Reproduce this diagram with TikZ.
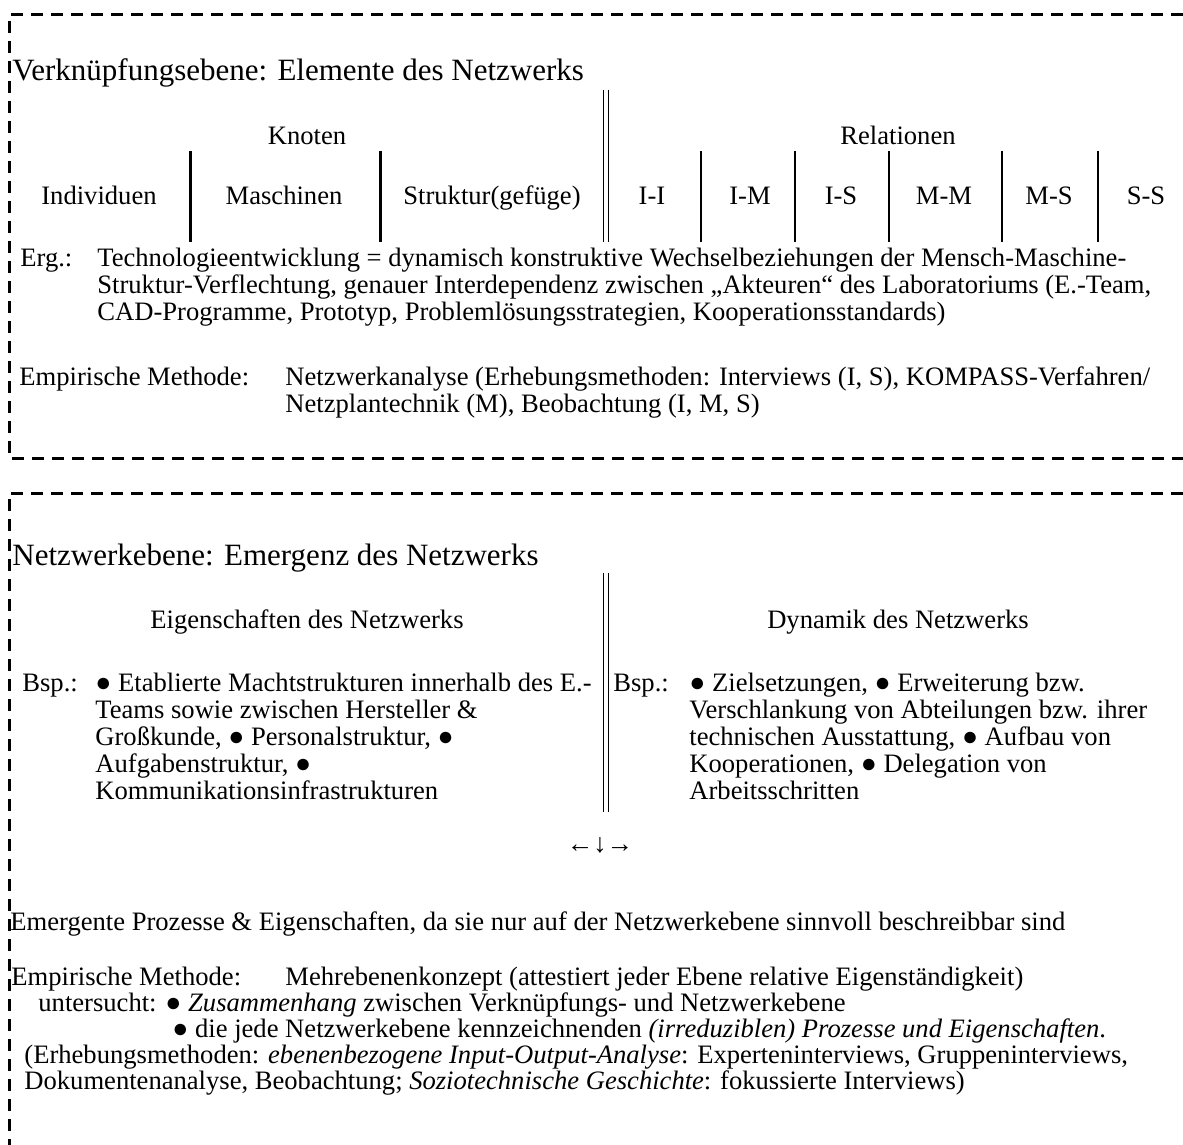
\documentclass[tikz,border=0pt]{standalone}
\usepackage{fontspec}
\setmainfont{Liberation Serif}
\usetikzlibrary{positioning}

\begin{document}
\begin{tikzpicture}[x=0.5pt,y=-0.5pt,every node/.style={inner sep=0pt,anchor=base west,font=\fontsize{13.3}{13.5}\selectfont}]
 \tikzstyle{rahmen}=[line width=1.5pt,dash pattern=on 6pt off 4pt]
 \tikzstyle{trenn}=[line width=1.5pt]
 \tikzstyle{duenn}=[line width=1pt]
 \tikzstyle{doppel}=[double,double distance=1.6pt,line width=0.6pt]
 \tikzstyle{mitte}=[anchor=base]
 \tikzstyle{gross}=[font=\fontsize{15.5}{16}\selectfont]
 \useasboundingbox (0,0) rectangle (1183,1145);

 % oberer Rahmen
 \draw[rahmen] (1183,15) -- (9,15) -- (9,458) -- (1183,458);
 \node[gross] (titel1) at (12,81) {Verknüpfungsebene: Elemente des Netzwerks};
 \node[mitte] (knoten) at (307,144) {Knoten};
 \node[mitte] (relationen) at (898,144) {Relationen};
 \node[mitte] (ind) at (99,205) {Individuen};
 \node[mitte] (masch) at (284,205) {Maschinen};
 \node[mitte] (strukt) at (492,205) {Struktur(gefüge)};
 \node[mitte] (ii) at (652,205) {I-I};
 \node[mitte] (im) at (750,205) {I-M};
 \node[mitte] (is) at (841,205) {I-S};
 \node[mitte] (mm) at (944,205) {M-M};
 \node[mitte] (ms) at (1049,205) {M-S};
 \node[mitte] (ss) at (1146,205) {S-S};
 \draw[doppel] (606,90) -- (606,242);
 \foreach \x in {190,380} \draw[trenn] (\x,151) -- (\x,242);
 \foreach \x in {701,795,889,1002,1098} \draw[duenn] (\x,151) -- (\x,242);

 \node (erg) at (20,266) {Erg.:};
 \node (erg1) at (97,266) {Technologieentwicklung = dynamisch konstruktive Wechselbeziehungen der Mensch-Maschine-};
 \node (erg2) at (97,293) {Struktur-Verflechtung, genauer Interdependenz zwischen „Akteuren“ des Laboratoriums (E.-Team,};
 \node (erg3) at (97,320) {CAD-Programme, Prototyp, Problemlösungsstrategien, Kooperationsstandards)};
 \node (emp1) at (19,385) {Empirische Methode:};
 \node (emp1a) at (285,385) {Netzwerkanalyse (Erhebungsmethoden: Interviews (I, S), KOMPASS-Verfahren/};
 \node (emp1b) at (285,412) {Netzplantechnik (M), Beobachtung (I, M, S)};

 % unterer Rahmen
 \draw[rahmen] (1183,493) -- (9,493) -- (9,1145);
 \node[gross] (titel2) at (12,565) {Netzwerkebene: Emergenz des Netzwerks};
 \node[mitte] (eig) at (307,628) {Eigenschaften des Netzwerks};
 \node[mitte] (dyn) at (898,628) {Dynamik des Netzwerks};
 \draw[doppel] (606,573) -- (606,812);
 \node (bsp1) at (22,691) {Bsp.:};
 \node (eig1) at (95,691) {● Etablierte Machtstrukturen innerhalb des E.-};
 \node (eig2) at (95,718) {Teams sowie zwischen Hersteller \&};
 \node (eig3) at (95,745) {Großkunde, ● Personalstruktur, ●};
 \node (eig4) at (95,772) {Aufgabenstruktur, ●};
 \node (eig5) at (95,799) {Kommunikationsinfrastrukturen};
 \node (bsp2) at (613,691) {Bsp.:};
 \node (dyn1) at (689,691) {● Zielsetzungen, ● Erweiterung bzw.};
 \node (dyn2) at (689,718) {Verschlankung von Abteilungen bzw. ihrer};
 \node (dyn3) at (689,745) {technischen Ausstattung, ● Aufbau von};
 \node (dyn4) at (689,772) {Kooperationen, ● Delegation von};
 \node (dyn5) at (689,799) {Arbeitsschritten};
 \node[mitte] (pfeile) at (600,852) {←↓→};
 \node (emergent) at (10,930) {Emergente Prozesse \& Eigenschaften, da sie nur auf der Netzwerkebene sinnvoll beschreibbar sind};
 \node (emp2) at (11,985) {Empirische Methode:};
 \node (emp2a) at (285,985) {Mehrebenenkonzept (attestiert jeder Ebene relative Eigenständigkeit)};
 \node (unt1) at (38,1011) {untersucht: ● \textit{Zusammenhang} zwischen Verknüpfungs- und Netzwerkebene};
 \node (unt2) at (172,1037) {● die jede Netzwerkebene kennzeichnenden \textit{(irreduziblen) Prozesse und Eigenschaften}.};
 \node (erh1) at (24,1063) {(Erhebungsmethoden: \textit{ebenenbezogene Input-Output-Analyse}: Experteninterviews, Gruppeninterviews,};
 \node (erh2) at (24,1089) {Dokumentenanalyse, Beobachtung; \textit{Soziotechnische Geschichte}: fokussierte Interviews)};
\end{tikzpicture}
\end{document}
